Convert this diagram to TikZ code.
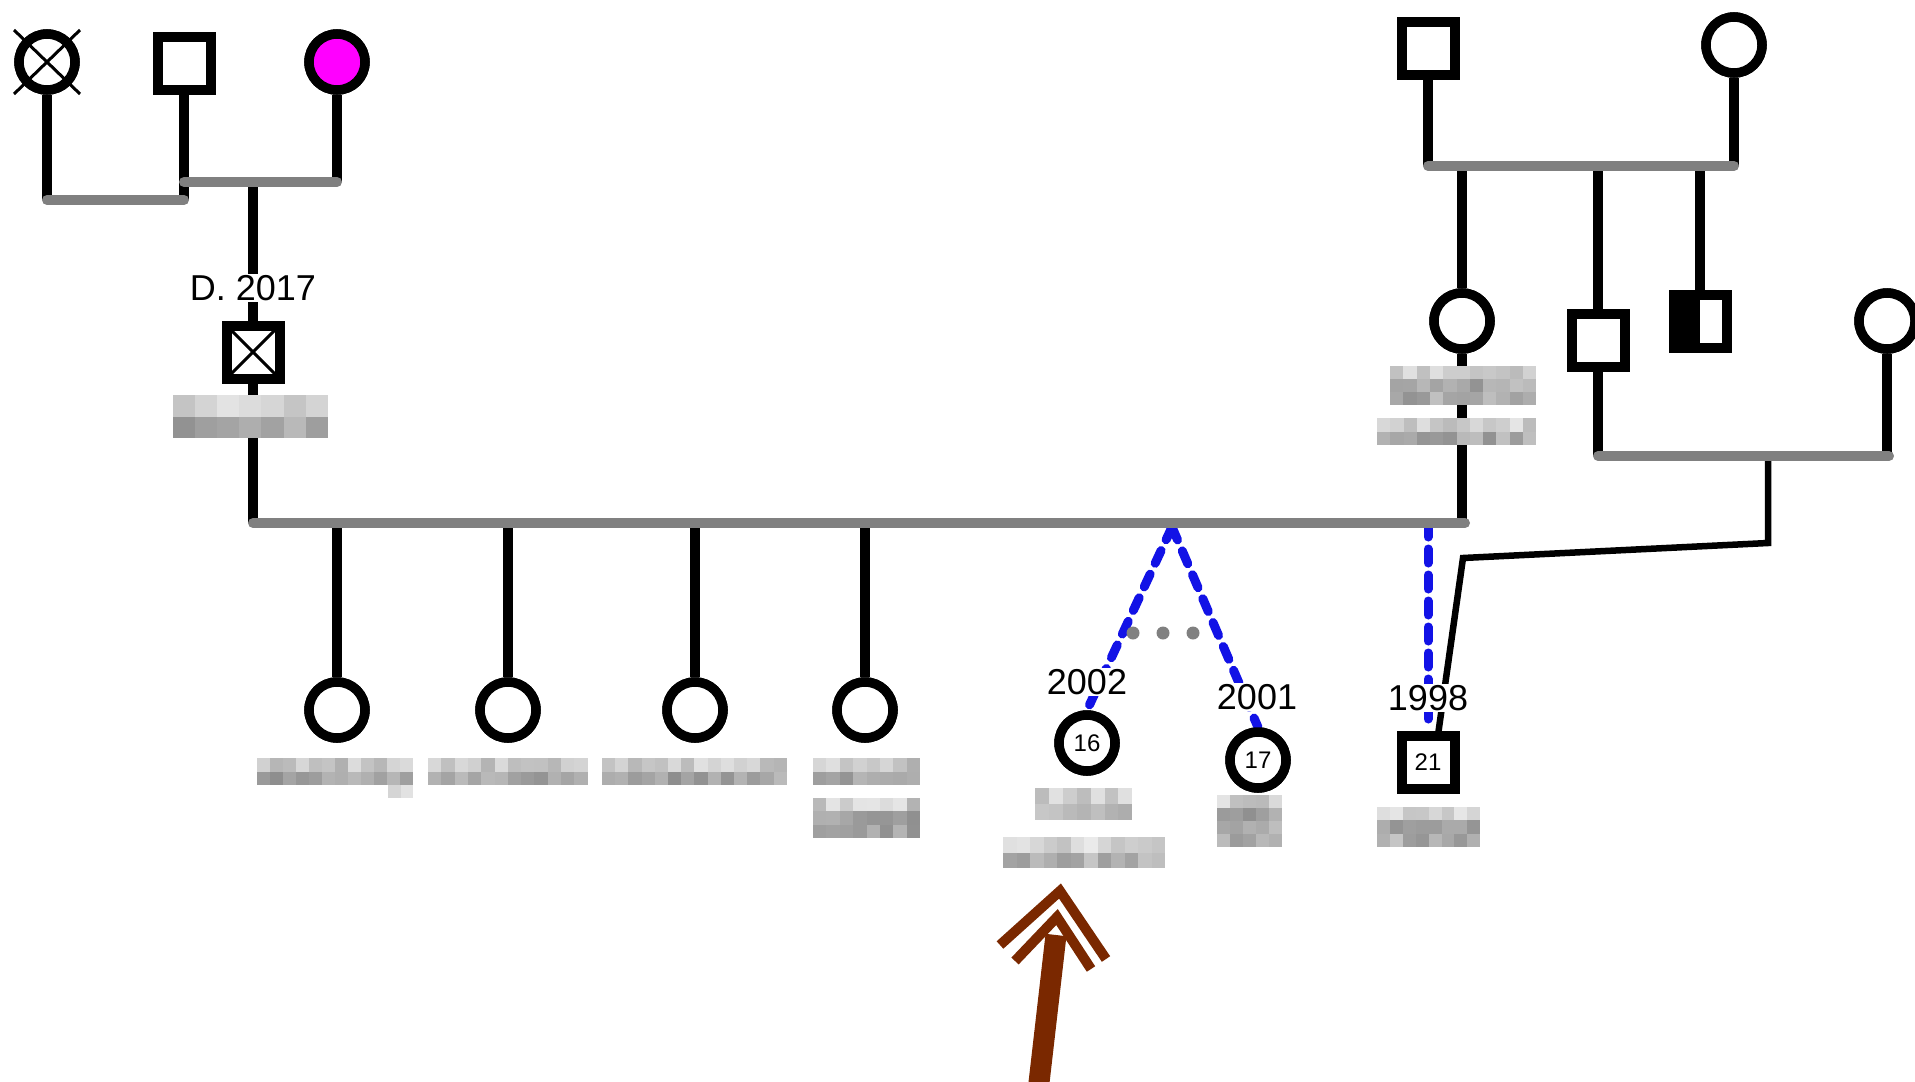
\documentclass[tikz,border=0pt]{standalone}
\usepackage{fontspec}
\setmainfont{Liberation Sans}
\usetikzlibrary{calc}
\definecolor{mgray}{RGB}{128,128,128}
\definecolor{pblue}{RGB}{18,18,230}
\definecolor{mag}{RGB}{255,0,255}
\definecolor{abrown}{RGB}{122,40,0}
\newcommand\blurbox[7]{% x y cols rows bw bh base
  \foreach \i in {1,...,#3}{\foreach \j in {1,...,#4}{%
    \pgfmathsetmacro\gval{#7 + (\j>1 ? 14 : 0) + rnd*20}%
    \fill[black!\gval] ({#1+(\i-1)*#5},{#2+(\j-1)*#6}) rectangle ++(#5,#6);%
  }}}
\tikzset{
  femnode/.style={circle,draw=black,line width=9.5pt,fill=white,minimum size=56pt,inner sep=0pt},
  malnode/.style={rectangle,draw=black,line width=10pt,fill=white,minimum size=53pt,inner sep=0pt},
  kidline/.style={line width=10pt,black},
  mline/.style={line width=10pt,mgray,line cap=round},
  twinline/.style={line width=9pt,pblue,line cap=round,dash pattern=on 14pt off 12pt},
  yearlabel/.style={fill=white,inner sep=1pt,font=\fontsize{36}{40}\selectfont},
  agelabel/.style={font=\fontsize{24}{28}\selectfont},
  xline/.style={line width=3pt,black},
}
\begin{document}
\begin{tikzpicture}[x=1pt,y=-1pt]
\useasboundingbox (0,0) rectangle (1915,1082);
\pgfmathsetseed{11}
% ---------- coordinates ----------
\coordinate (ml1a) at (47,200);
\coordinate (ml1b) at (184,200);
\coordinate (ml2a) at (184,182);
\coordinate (ml2b) at (337,182);
\coordinate (d17) at (253,182);
\coordinate (mainA) at (253,523);
\coordinate (mainB) at (1465,523);
\coordinate (twinApex) at (1172,527);
\coordinate (s21top) at (1428,523);
\coordinate (rmA) at (1428,166);
\coordinate (rmB) at (1734,166);
\coordinate (lmA) at (1598,456);
\coordinate (lmB) at (1889,456);
\coordinate (lmMid) at (1768,456);
\coordinate (bend1) at (1768,543);
\coordinate (bend2) at (1463,558);
\coordinate (s21in) at (1438,735);
% ---------- nodes ----------
\node[femnode] (gm1) at (47,62) {};
\node[malnode] (gf1) at (184,63) {};
\node[femnode,fill=mag] (gm2) at (337,62) {};
\node[malnode] (p1) at (253,352) {};
\node[femnode] (k1) at (337,710) {};
\node[femnode] (k2) at (508,710) {};
\node[femnode] (k3) at (695,710) {};
\node[femnode] (k4) at (865,710) {};
\node[femnode] (tw1) at (1087,743) {};
\node[femnode] (tw2) at (1258,760) {};
\node[malnode] (s21) at (1428,762) {};
\node[malnode] (rf) at (1428,48) {};
\node[femnode] (rm) at (1734,45) {};
\node[femnode] (rc) at (1462,321) {};
\node[malnode] (rs) at (1598,340) {};
\node[malnode] (rh) at (1700,321) {};
\node[femnode] (fr) at (1887,321) {};
% ---------- lines ----------
\draw[kidline] (gm1) -- (ml1a);
\draw[kidline] (gf1) -- (ml1b);
\draw[kidline] (gm2) -- (ml2b);
\draw[kidline] (d17) -- (p1);
\draw[kidline] (p1) -- (mainA);
\foreach \k in {k1,k2,k3,k4}{\draw[kidline] (\k.north |- mainA) -- (\k);}
\draw[kidline] (rf) -- (rmA);
\draw[kidline] (rm) -- (rmB);
\foreach \k in {rc,rs,rh}{\draw[kidline] (\k.north |- rmA) -- (\k);}
\draw[kidline] (rc) -- (rc.south |- mainB);
\draw[kidline] (rs) -- (lmA);
\draw[kidline] (fr) -- (fr.south |- lmB);
\draw[line width=6.5pt,black,line join=miter] (lmMid) -- (bend1) -- (bend2) -- (s21in);
\draw[twinline] (twinApex) -- (tw1.north);
\draw[twinline] (twinApex) -- (tw2.north);
\draw[twinline] (s21top) -- (s21.north);
\draw[mline] (ml1a) -- (ml1b);
\draw[mline] (ml2a) -- (ml2b);
\draw[mline] (mainA) -- (mainB);
\draw[mline] (rmA) -- (rmB);
\draw[mline] (lmA) -- (lmB);
\foreach \xx in {1133,1163,1193}{\fill[mgray] (\xx,633) circle (6.5pt);}
% redraw shapes on top
\node[femnode] at (gm1) {};
\draw[xline] ($(gm1)+(-33,-32)$) -- ($(gm1)+(33,32)$);
\draw[xline] ($(gm1)+(33,-32)$) -- ($(gm1)+(-33,32)$);
\node[malnode] at (gf1) {};
\node[femnode,fill=mag] at (gm2) {};
\node[malnode] at (p1) {};
\draw[xline] ($(p1)+(-22,-22)$) -- ($(p1)+(22,22)$);
\draw[xline] ($(p1)+(22,-22)$) -- ($(p1)+(-22,22)$);
\foreach \k in {k1,k2,k3,k4,tw1,tw2,rm,rc,fr}{\node[femnode] at (\k) {};}
\foreach \k in {s21,rf,rs}{\node[malnode] at (\k) {};}
\node[malnode,path picture={\fill[black] (path picture bounding box.north west) rectangle (path picture bounding box.south);}] at (rh) {};
\node[agelabel] at (tw1) {16};
\node[agelabel] at (tw2) {17};
\node[agelabel] at (s21) {21};
% ---------- labels ----------
\node[yearlabel] (lbl17) at (253,288) {D. 2017};
\node[yearlabel] (lbl02) at (1087,682) {2002};
\node[yearlabel] (lbl01) at (1257,697) {2001};
\node[yearlabel] (lbl98) at (1428,698) {1998};
% ---------- blurred names ----------
\blurbox{173}{395}{7}{2}{22.1}{21.5}{10}
\blurbox{257}{758}{12}{2}{13}{13.5}{12}
\blurbox{388}{785}{2}{1}{12.5}{13}{10}
\blurbox{428}{758}{12}{2}{13.3}{13.5}{12}
\blurbox{602}{758}{14}{2}{13.2}{13.5}{12}
\blurbox{813}{758}{8}{2}{13.4}{13.5}{12}
\blurbox{813}{798}{8}{3}{13.4}{13.3}{10}
\blurbox{1035}{788}{7}{2}{13.9}{16}{8}
\blurbox{1003}{837}{12}{2}{13.5}{15.5}{8}
\blurbox{1217}{795}{5}{4}{13}{13}{10}
\blurbox{1377}{807}{8}{3}{12.9}{13.3}{8}
\blurbox{1390}{366}{11}{3}{13.3}{13}{10}
\blurbox{1377}{418}{12}{2}{13.25}{13.5}{10}
% ---------- arrow ----------
\coordinate (arrA) at (1037,1100);
\coordinate (arrB) at (1056,935);
\draw[abrown,line width=21pt] (arrA) -- (arrB);
\draw[abrown,line width=10pt,line join=miter] (1015,961) -- (1057,917) -- (1091,969);
\draw[abrown,line width=10pt,line join=miter] (1000,945) -- (1060,891) -- (1106,959);
\end{tikzpicture}
\end{document}
